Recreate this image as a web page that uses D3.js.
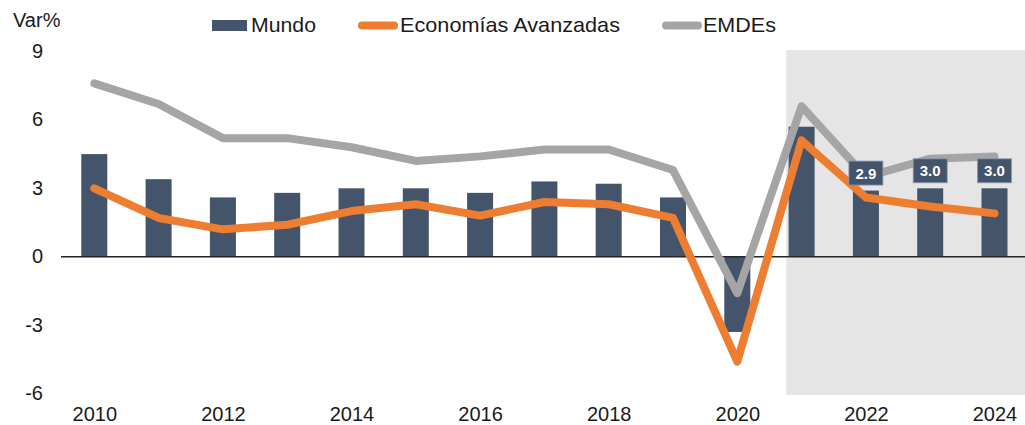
<!DOCTYPE html>
<html>
<head>
<meta charset="utf-8">
<script src="https://cdn.jsdelivr.net/npm/d3@7"></script>
<style>
  body { margin: 0; background: #fff; }
  text { font-family: "Liberation Sans", Arial, sans-serif; fill: #1a1a1a; }
</style>
</head>
<body>
<div id="chart"></div>
<script>
"use strict";

// data
const years = [2010, 2011, 2012, 2013, 2014, 2015, 2016, 2017, 2018, 2019, 2020, 2021, 2022, 2023, 2024];
const mundo = [4.5, 3.4, 2.6, 2.8, 3.0, 3.0, 2.8, 3.3, 3.2, 2.6, -3.3, 5.7, 2.9, 3.0, 3.0];
const avanzadas = [3.0, 1.7, 1.2, 1.4, 2.0, 2.3, 1.8, 2.4, 2.3, 1.7, -4.6, 5.1, 2.6, 2.2, 1.9];
const emdes = [7.6, 6.7, 5.2, 5.2, 4.8, 4.2, 4.4, 4.7, 4.7, 3.8, -1.6, 6.6, 3.5, 4.3, 4.4];
const yTicks = [-6, -3, 0, 3, 6, 9];
const xTicks = [2010, 2012, 2014, 2016, 2018, 2020, 2022, 2024];
const labelYears = [2022, 2023, 2024];
const forecastFrom = 2021;
const seriesNames = ["Mundo", "Economías Avanzadas", "EMDEs"];

const colors = { bar: "#44546a", orange: "#ed7d31", grey: "#a5a5a5", shade: "#e5e5e5" };

const width = 1025, height = 425;

const svg = d3.select("#chart").append("svg")
  .attr("width", width)
  .attr("height", height);

const x = d3.scaleLinear().domain([2010, 2024]).range([94.3, 994.5]);
const y = d3.scaleLinear().domain([-6, 9]).range([393.5, 51.5]);
const step = x(2011) - x(2010);
const barW = 26;

// forecast shading
svg.append("rect")
  .attr("x", x(forecastFrom) - 0.24 * step)
  .attr("y", y(9) - 1.5)
  .attr("width", width - (x(forecastFrom) - 0.24 * step))
  .attr("height", y(-6) - y(9) + 3)
  .attr("fill", colors.shade);

// bars
svg.append("g").selectAll("rect")
  .data(years.map((yr, i) => ({ yr, v: mundo[i] })))
  .enter()
  .append("rect")
  .attr("x", d => x(d.yr) - barW / 2)
  .attr("y", d => y(Math.max(0, d.v)))
  .attr("width", barW)
  .attr("height", d => Math.abs(y(d.v) - y(0)))
  .attr("fill", colors.bar);

// zero line
svg.append("line")
  .attr("x1", 61).attr("x2", width)
  .attr("y1", y(0)).attr("y2", y(0))
  .attr("stroke", "#262626")
  .attr("stroke-width", 1.5);

// y axis labels
const yAxis = d3.axisLeft(y).tickValues(yTicks).tickSize(0).tickPadding(0).tickFormat(d => String(d));
svg.append("g")
  .attr("transform", "translate(43,0)")
  .call(yAxis)
  .call(g => g.select(".domain").remove())
  .selectAll("text")
  .attr("font-size", 20)
  .attr("font-family", "Liberation Sans, Arial, sans-serif")
  .attr("fill", "#1a1a1a")
  .attr("dy", "0.3em");

// x axis labels
const xAxis = d3.axisBottom(x).tickValues(xTicks).tickSize(0).tickPadding(0).tickFormat(d => String(d));
svg.append("g")
  .attr("transform", "translate(0,407)")
  .call(xAxis)
  .call(g => g.select(".domain").remove())
  .selectAll("text")
  .attr("font-size", 20)
  .attr("font-family", "Liberation Sans, Arial, sans-serif")
  .attr("fill", "#1a1a1a")
  .attr("dy", "0.72em");

// lines
const line = d3.line().x(d => x(d.yr)).y(d => y(d.v));
[[emdes, colors.grey], [avanzadas, colors.orange]].forEach(([vals, col]) => {
  svg.append("path")
    .datum(years.map((yr, i) => ({ yr, v: vals[i] })))
    .attr("d", line)
    .attr("fill", "none")
    .attr("stroke", col)
    .attr("stroke-width", 8)
    .attr("stroke-linejoin", "round")
    .attr("stroke-linecap", "round");
});

// data labels for last years
const lab = svg.append("g").selectAll("g")
  .data(labelYears.map(yr => ({ yr, v: mundo[years.indexOf(yr)] })))
  .enter()
  .append("g")
  .attr("transform", d => `translate(${x(d.yr)},${y(d.v) - 17.5})`);

lab.append("rect")
  .attr("x", -17).attr("y", -12)
  .attr("width", 34).attr("height", 24)
  .attr("fill", colors.bar)
  .attr("stroke", "#8a9ab0")
  .attr("stroke-width", 0.8);

lab.append("text")
  .text(d => d.v.toFixed(1))
  .attr("text-anchor", "middle")
  .attr("dy", "0.37em")
  .attr("font-family", "DejaVu Sans, sans-serif")
  .attr("font-weight", "bold")
  .attr("font-size", 15)
  .style("fill", "#fff");

// y title
svg.append("text")
  .attr("x", 13).attr("y", 27)
  .attr("font-size", 20)
  .text("Var%");

// legend
const legend = svg.append("g");
legend.append("rect")
  .attr("x", 212).attr("y", 20).attr("width", 35).attr("height", 11)
  .attr("fill", colors.bar);
legend.append("text").attr("x", 251).attr("y", 32).attr("font-size", 21)
  .attr("textLength", 65).attr("lengthAdjust", "spacingAndGlyphs").text(seriesNames[0]);

legend.append("line")
  .attr("x1", 362).attr("x2", 394).attr("y1", 25.5).attr("y2", 25.5)
  .attr("stroke", colors.orange).attr("stroke-width", 8).attr("stroke-linecap", "round");
legend.append("text").attr("x", 400).attr("y", 32).attr("font-size", 21)
  .attr("textLength", 220).attr("lengthAdjust", "spacingAndGlyphs").text(seriesNames[1]);

legend.append("line")
  .attr("x1", 666).attr("x2", 698).attr("y1", 25.5).attr("y2", 25.5)
  .attr("stroke", colors.grey).attr("stroke-width", 8).attr("stroke-linecap", "round");
legend.append("text").attr("x", 703).attr("y", 32).attr("font-size", 21)
  .attr("textLength", 73).attr("lengthAdjust", "spacingAndGlyphs").text(seriesNames[2]);
</script>
</body>
</html>
